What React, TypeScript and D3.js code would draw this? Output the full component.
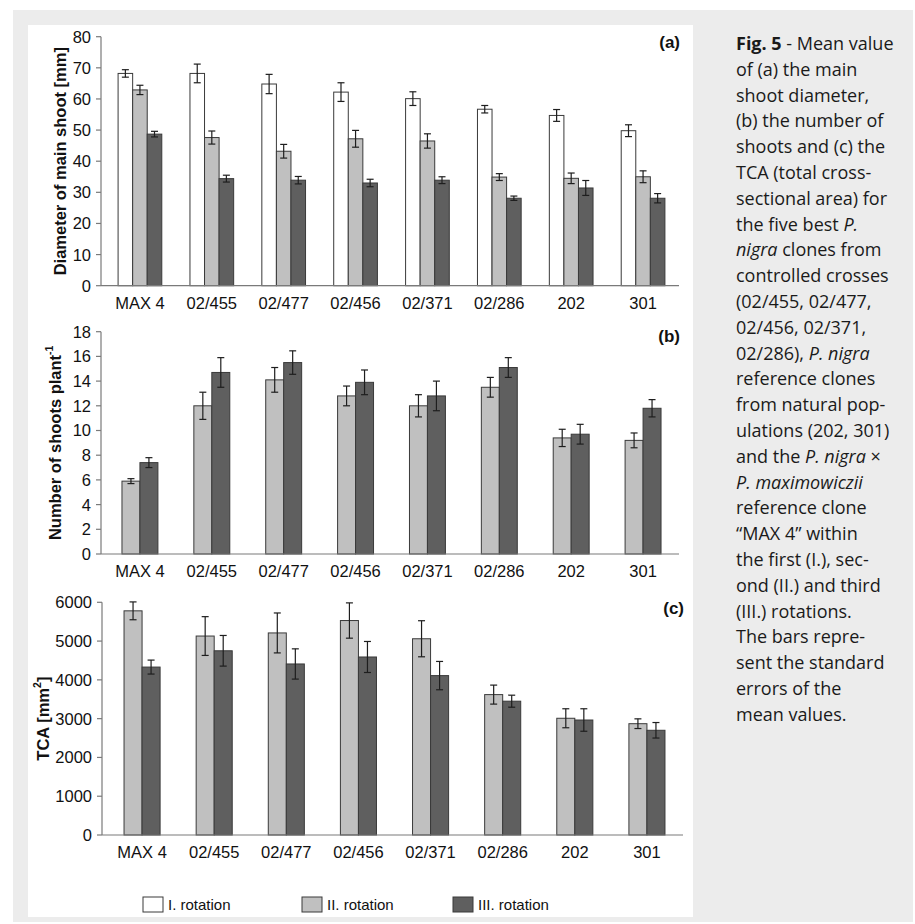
import * as d3 from 'd3';

// clones on the x axis
const clones = ['MAX 4', '02/455', '02/477', '02/456', '02/371', '02/286', '202', '301'];
const rotations = ['I. rotation', 'II. rotation', 'III. rotation'];

// (a) diameter of main shoot [mm]
const diamI = [68.2, 68.2, 64.8, 62.2, 60.1, 56.7, 54.7, 49.8];
const diamIErr = [1.2, 3.0, 3.1, 3.0, 2.2, 1.2, 1.9, 1.9];
const diamII = [62.9, 47.6, 43.2, 47.2, 46.5, 34.9, 34.5, 35.0];
const diamIIErr = [1.5, 2.1, 2.2, 2.7, 2.3, 1.1, 1.7, 1.9];
const diamIII = [48.7, 34.4, 33.9, 33.0, 33.9, 28.1, 31.4, 28.1];
const diamIIIErr = [0.9, 1.1, 1.2, 1.2, 1.1, 0.7, 2.4, 1.5];

// (b) number of shoots per plant
const shootsII = [5.9, 12.0, 14.1, 12.8, 12.0, 13.5, 9.4, 9.2];
const shootsIIErr = [0.2, 1.1, 1.0, 0.8, 0.9, 0.8, 0.7, 0.6];
const shootsIII = [7.4, 14.7, 15.5, 13.9, 12.8, 15.1, 9.7, 11.8];
const shootsIIIErr = [0.4, 1.2, 0.95, 1.0, 1.2, 0.8, 0.8, 0.7];

// (c) TCA [mm2]
const tcaII = [5780, 5130, 5210, 5530, 5060, 3620, 3010, 2870];
const tcaIIErr = [230, 500, 515, 455, 465, 245, 245, 125];
const tcaIII = [4330, 4750, 4410, 4590, 4110, 3450, 2965, 2700];
const tcaIIIErr = [180, 395, 390, 400, 365, 155, 290, 200];

const fills = ['#ffffff', '#c0c0c0', '#5f5f5f'];
const FONT = '"Liberation Sans", Arial, sans-serif';

// caption, one entry per line: [text, style]
const caption: [string, string][][] = [
  [['Fig. 5', 'b'], [' - Mean value', '']],
  [['of (a) the main', '']],
  [['shoot diameter,', '']],
  [['(b) the number of', '']],
  [['shoots and (c) the', '']],
  [['TCA (total cross-', '']],
  [['sectional area) for', '']],
  [['the five best ', ''], ['P.', 'i']],
  [['nigra', 'i'], [' clones from', '']],
  [['controlled crosses', '']],
  [['(02/455, 02/477,', '']],
  [['02/456, 02/371,', '']],
  [['02/286), ', ''], ['P. nigra', 'i']],
  [['reference clones', '']],
  [['from natural pop-', '']],
  [['ulations (202, 301)', '']],
  [['and the ', ''], ['P. nigra', 'i'], [' ×', '']],
  [['P. maximowiczii', 'i']],
  [['reference clone', '']],
  [['\u201CMAX 4\u201D within', '']],
  [['the first (I.), sec-', '']],
  [['ond (II.) and third', '']],
  [['(III.) rotations.', '']],
  [['The bars repre-', '']],
  [['sent the standard', '']],
  [['errors of the', '']],
  [['mean values.', '']],
];

type Series = { rot: number; values: number[]; errors: number[] };

type PanelProps = {
  top: number;
  bottom: number;
  axisX: number;
  xRange: [number, number];
  yMax: number;
  yStep: number;
  pad: number;
  series: Series[];
  letter: string;
  letterY: number;
  titleX: number;
  title: React.ReactNode;
};

function Panel({ top, bottom, axisX, xRange, yMax, yStep, pad, series, letter, letterY, titleX, title }: PanelProps) {
  const y = d3.scaleLinear().domain([0, yMax]).range([bottom, top]);
  const x = d3
    .scaleBand<string>()
    .domain(clones)
    .range(xRange)
    .paddingInner(pad)
    .paddingOuter(pad / 2);
  const sub = d3
    .scaleBand<string>()
    .domain(series.map(s => String(s.rot)))
    .range([0, x.bandwidth()]);
  const ticks = d3.range(0, yMax + yStep / 2, yStep);
  const cap = 3.5;

  return (
    <g fontFamily={FONT}>
      {/* bars */}
      {series.map(s =>
        clones.map((c, i) => {
          const bx = (x(c) ?? 0) + (sub(String(s.rot)) ?? 0);
          const w = sub.bandwidth();
          const v = s.values[i];
          const e = s.errors[i];
          const cx = bx + w / 2;
          return (
            <g key={`${s.rot}-${c}`}>
              <rect x={bx} y={y(v)} width={w} height={y(0) - y(v)} fill={fills[s.rot]} stroke="#3a3a3a" strokeWidth={1} />
              <line x1={cx} x2={cx} y1={y(v + e)} y2={y(v - e)} stroke="#1e1e1e" strokeWidth={1.2} />
              <line x1={cx - cap} x2={cx + cap} y1={y(v + e)} y2={y(v + e)} stroke="#1e1e1e" strokeWidth={1.2} />
              <line x1={cx - cap} x2={cx + cap} y1={y(v - e)} y2={y(v - e)} stroke="#1e1e1e" strokeWidth={1.2} />
            </g>
          );
        })
      )}
      {/* axes */}
      <line x1={axisX} x2={axisX} y1={y(yMax)} y2={y(0)} stroke="#7a7a7a" strokeWidth={1.2} />
      <line x1={axisX} x2={xRange[1]} y1={y(0)} y2={y(0)} stroke="#7a7a7a" strokeWidth={1.2} />
      {ticks.map(t => (
        <g key={t}>
          <line x1={axisX - 5} x2={axisX} y1={y(t)} y2={y(t)} stroke="#7a7a7a" strokeWidth={1.2} />
          <text x={axisX - 10} y={y(t)} dy="0.36em" textAnchor="end" fontSize={16.5} fill="#111">
            {t}
          </text>
        </g>
      ))}
      {clones.map(c => (
        <text key={c} x={(x(c) ?? 0) + x.bandwidth() / 2} y={y(0) + 23} textAnchor="middle" fontSize={16.5} fill="#111">
          {c}
        </text>
      ))}
      <text
        transform={`translate(${titleX},${(top + bottom) / 2}) rotate(-90)`}
        textAnchor="middle"
        dominantBaseline="central"
        fontSize={16.5}
        fontWeight="bold"
        fill="#111"
      >
        {title}
      </text>
      <text x={xRange[1] + 1} y={letterY} textAnchor="end" fontSize={17} fontWeight="bold" fill="#111">
        {letter}
      </text>
    </g>
  );
}

export default function App() {
  const legendX = [143, 302, 453];
  return (
    <svg width={915} height={924} style={{ position: 'absolute', left: 0, top: 0 }}>
      <rect x={0} y={0} width={915} height={924} fill="#ffffff" />
      <rect x={13} y={10} width={900} height={912} fill="#ececec" />
      <rect x={28} y={25} width={665} height={892} fill="#ffffff" />

      <Panel
        top={36.7}
        bottom={285.7}
        axisX={101}
        xRange={[104, 679]}
        yMax={80}
        yStep={10}
        pad={0.392}
        series={[
          { rot: 0, values: diamI, errors: diamIErr },
          { rot: 1, values: diamII, errors: diamIIErr },
          { rot: 2, values: diamIII, errors: diamIIIErr },
        ]}
        letter="(a)"
        letterY={48}
        titleX={60}
        title="Diameter of main shoot [mm]"
      />
      <Panel
        top={331.7}
        bottom={554}
        axisX={101}
        xRange={[104, 679]}
        yMax={18}
        yStep={2}
        pad={0.5}
        series={[
          { rot: 1, values: shootsII, errors: shootsIIErr },
          { rot: 2, values: shootsIII, errors: shootsIIIErr },
        ]}
        letter="(b)"
        letterY={342}
        titleX={55}
        title={
          <>
            Number of shoots plant
            <tspan fontSize={10.5} dy={-6}>
              -1
            </tspan>
          </>
        }
      />
      <Panel
        top={602.3}
        bottom={835}
        axisX={102}
        xRange={[106, 683]}
        yMax={6000}
        yStep={1000}
        pad={0.5}
        series={[
          { rot: 1, values: tcaII, errors: tcaIIErr },
          { rot: 2, values: tcaIII, errors: tcaIIIErr },
        ]}
        letter="(c)"
        letterY={614}
        titleX={43}
        title={
          <>
            TCA [mm
            <tspan fontSize={10.5} dy={-6}>
              2
            </tspan>
            <tspan dy={6}>]</tspan>
          </>
        }
      />

      {/* legend */}
      <g fontFamily={FONT}>
        {rotations.map((r, i) => (
          <g key={r}>
            <rect x={legendX[i]} y={897} width={20} height={15} fill={fills[i]} stroke="#3a3a3a" strokeWidth={1} />
            <text x={legendX[i] + 25} y={910} fontSize={15} fill="#111">
              {r}
            </text>
          </g>
        ))}
      </g>

      {/* caption */}
      <g fontFamily='"Open Sans", sans-serif' fontSize={18} fill="#1a1a1a">
        {caption.map((line, li) => (
          <text key={li} x={736} y={50 + li * 25.8}>
            {line.map(([t, s], k) => (
              <tspan key={k} fontWeight={s === 'b' ? 'bold' : 'normal'} fontStyle={s === 'i' ? 'italic' : 'normal'}>
                {t}
              </tspan>
            ))}
          </text>
        ))}
      </g>
    </svg>
  );
}
